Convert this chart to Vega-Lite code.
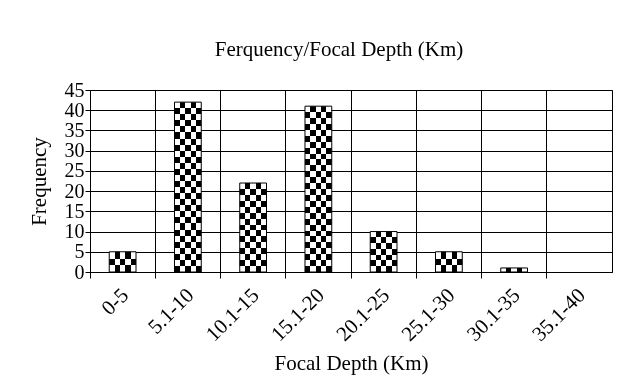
{
  "$schema": "https://vega.github.io/schema/vega-lite/v6.json",
  "width": 522,
  "height": 182,
  "autosize": {"type": "none"},
  "padding": {"left": 90, "top": 90, "right": 5, "bottom": 119},
  "background": "white",
  "title": {"text": "Ferquency/Focal Depth (Km)", "font": "Liberation Serif", "fontSize": 21, "fontWeight": "normal", "color": "black", "offset": 20, "dx": -12, "anchor": "middle"},
  "data": {"values": [
    {"depth": "0-5", "frequency": 5},
    {"depth": "5.1-10", "frequency": 42},
    {"depth": "10.1-15", "frequency": 22},
    {"depth": "15.1-20", "frequency": 41},
    {"depth": "20.1-25", "frequency": 10},
    {"depth": "25.1-30", "frequency": 5},
    {"depth": "30.1-35", "frequency": 1},
    {"depth": "35.1-40", "frequency": 0}
  ]},
  "encoding": {
    "x": {"field": "depth", "type": "nominal", "sort": null,
      "scale": {"paddingInner": 0.59, "paddingOuter": 0.295},
      "axis": {"title": "Focal Depth (Km)", "labelAngle": -45, "labelFontSize": 21, "labelPadding": 6, "labelOffset": -5, "titleFontSize": 21, "titlePadding": 8, "grid": true, "bandPosition": -0.7195, "tickSize": 6, "tickWidth": 1}},
    "y": {"field": "frequency", "type": "quantitative",
      "scale": {"domain": [0, 45], "nice": false},
      "axis": {"title": "Frequency", "values": [0, 5, 10, 15, 20, 25, 30, 35, 40, 45], "labelFontSize": 20, "labelPadding": 1, "tickSize": 5, "titleFontSize": 21, "titlePadding": 15, "grid": true}}
  },
  "layer": [
    {"mark": {"type": "bar"},
     "encoding": {"fill": {"condition": [
       {"test": "datum.frequency >= 40", "value": {"gradient": "linear", "x1": 0, "y1": 0, "x2": 0, "y2": 1, "stops": [
         {"offset": 0, "color": "#fff"}, {"offset": 0.0357, "color": "#fff"},
         {"offset": 0.0357, "color": "#000"}, {"offset": 0.0714, "color": "#000"},
         {"offset": 0.0714, "color": "#fff"}, {"offset": 0.1071, "color": "#fff"},
         {"offset": 0.1071, "color": "#000"}, {"offset": 0.1429, "color": "#000"},
         {"offset": 0.1429, "color": "#fff"}, {"offset": 0.1786, "color": "#fff"},
         {"offset": 0.1786, "color": "#000"}, {"offset": 0.2143, "color": "#000"},
         {"offset": 0.2143, "color": "#fff"}, {"offset": 0.25, "color": "#fff"},
         {"offset": 0.25, "color": "#000"}, {"offset": 0.2857, "color": "#000"},
         {"offset": 0.2857, "color": "#fff"}, {"offset": 0.3214, "color": "#fff"},
         {"offset": 0.3214, "color": "#000"}, {"offset": 0.3571, "color": "#000"},
         {"offset": 0.3571, "color": "#fff"}, {"offset": 0.3929, "color": "#fff"},
         {"offset": 0.3929, "color": "#000"}, {"offset": 0.4286, "color": "#000"},
         {"offset": 0.4286, "color": "#fff"}, {"offset": 0.4643, "color": "#fff"},
         {"offset": 0.4643, "color": "#000"}, {"offset": 0.5, "color": "#000"},
         {"offset": 0.5, "color": "#fff"}, {"offset": 0.5357, "color": "#fff"},
         {"offset": 0.5357, "color": "#000"}, {"offset": 0.5714, "color": "#000"},
         {"offset": 0.5714, "color": "#fff"}, {"offset": 0.6071, "color": "#fff"},
         {"offset": 0.6071, "color": "#000"}, {"offset": 0.6429, "color": "#000"},
         {"offset": 0.6429, "color": "#fff"}, {"offset": 0.6786, "color": "#fff"},
         {"offset": 0.6786, "color": "#000"}, {"offset": 0.7143, "color": "#000"},
         {"offset": 0.7143, "color": "#fff"}, {"offset": 0.75, "color": "#fff"},
         {"offset": 0.75, "color": "#000"}, {"offset": 0.7857, "color": "#000"},
         {"offset": 0.7857, "color": "#fff"}, {"offset": 0.8214, "color": "#fff"},
         {"offset": 0.8214, "color": "#000"}, {"offset": 0.8571, "color": "#000"},
         {"offset": 0.8571, "color": "#fff"}, {"offset": 0.8929, "color": "#fff"},
         {"offset": 0.8929, "color": "#000"}, {"offset": 0.9286, "color": "#000"},
         {"offset": 0.9286, "color": "#fff"}, {"offset": 0.9643, "color": "#fff"},
         {"offset": 0.9643, "color": "#000"}, {"offset": 1, "color": "#000"}
       ]}},
       {"test": "datum.frequency >= 20", "value": {"gradient": "linear", "x1": 0, "y1": 0, "x2": 0, "y2": 1, "stops": [
         {"offset": 0, "color": "#fff"}, {"offset": 0.0667, "color": "#fff"},
         {"offset": 0.0667, "color": "#000"}, {"offset": 0.1333, "color": "#000"},
         {"offset": 0.1333, "color": "#fff"}, {"offset": 0.2, "color": "#fff"},
         {"offset": 0.2, "color": "#000"}, {"offset": 0.2667, "color": "#000"},
         {"offset": 0.2667, "color": "#fff"}, {"offset": 0.3333, "color": "#fff"},
         {"offset": 0.3333, "color": "#000"}, {"offset": 0.4, "color": "#000"},
         {"offset": 0.4, "color": "#fff"}, {"offset": 0.4667, "color": "#fff"},
         {"offset": 0.4667, "color": "#000"}, {"offset": 0.5333, "color": "#000"},
         {"offset": 0.5333, "color": "#fff"}, {"offset": 0.6, "color": "#fff"},
         {"offset": 0.6, "color": "#000"}, {"offset": 0.6667, "color": "#000"},
         {"offset": 0.6667, "color": "#fff"}, {"offset": 0.7333, "color": "#fff"},
         {"offset": 0.7333, "color": "#000"}, {"offset": 0.8, "color": "#000"},
         {"offset": 0.8, "color": "#fff"}, {"offset": 0.8667, "color": "#fff"},
         {"offset": 0.8667, "color": "#000"}, {"offset": 0.9333, "color": "#000"},
         {"offset": 0.9333, "color": "#fff"}, {"offset": 1, "color": "#fff"}
       ]}},
       {"test": "datum.frequency >= 10", "value": {"gradient": "linear", "x1": 0, "y1": 0, "x2": 0, "y2": 1, "stops": [
         {"offset": 0, "color": "#fff"}, {"offset": 0.1429, "color": "#fff"},
         {"offset": 0.1429, "color": "#000"}, {"offset": 0.2857, "color": "#000"},
         {"offset": 0.2857, "color": "#fff"}, {"offset": 0.4286, "color": "#fff"},
         {"offset": 0.4286, "color": "#000"}, {"offset": 0.5714, "color": "#000"},
         {"offset": 0.5714, "color": "#fff"}, {"offset": 0.7143, "color": "#fff"},
         {"offset": 0.7143, "color": "#000"}, {"offset": 0.8571, "color": "#000"},
         {"offset": 0.8571, "color": "#fff"}, {"offset": 1, "color": "#fff"}
       ]}},
       {"test": "datum.frequency >= 5", "value": {"gradient": "linear", "x1": 0, "y1": 0, "x2": 0, "y2": 1, "stops": [
         {"offset": 0, "color": "#fff"}, {"offset": 0.3333, "color": "#fff"},
         {"offset": 0.3333, "color": "#000"}, {"offset": 0.6667, "color": "#000"},
         {"offset": 0.6667, "color": "#fff"}, {"offset": 1, "color": "#fff"}
       ]}}
     ], "value": "#fff"}}},
    {"mark": {"type": "bar", "blend": "difference", "fill": {"gradient": "linear", "x1": 0, "y1": 0, "x2": 1, "y2": 0, "stops": [
       {"offset": 0, "color": "#000"}, {"offset": 0.2, "color": "#000"},
       {"offset": 0.2, "color": "#fff"}, {"offset": 0.4, "color": "#fff"},
       {"offset": 0.4, "color": "#000"}, {"offset": 0.6, "color": "#000"},
       {"offset": 0.6, "color": "#fff"}, {"offset": 0.8, "color": "#fff"},
       {"offset": 0.8, "color": "#000"}, {"offset": 1, "color": "#000"}
     ]}}},
    {"mark": {"type": "bar", "fillOpacity": 0, "stroke": "black", "strokeWidth": 1},
     "encoding": {"strokeOpacity": {"condition": {"test": "datum.frequency == 0", "value": 0}, "value": 1}}}
  ],
  "config": {
    "view": {"stroke": "black", "strokeWidth": 1},
    "axis": {"labelFont": "Liberation Serif", "titleFont": "Liberation Serif", "labelColor": "black", "titleColor": "black", "titleFontWeight": "normal", "domainColor": "black", "tickColor": "black", "gridColor": "black", "gridOpacity": 1, "gridWidth": 1}
  }
}
